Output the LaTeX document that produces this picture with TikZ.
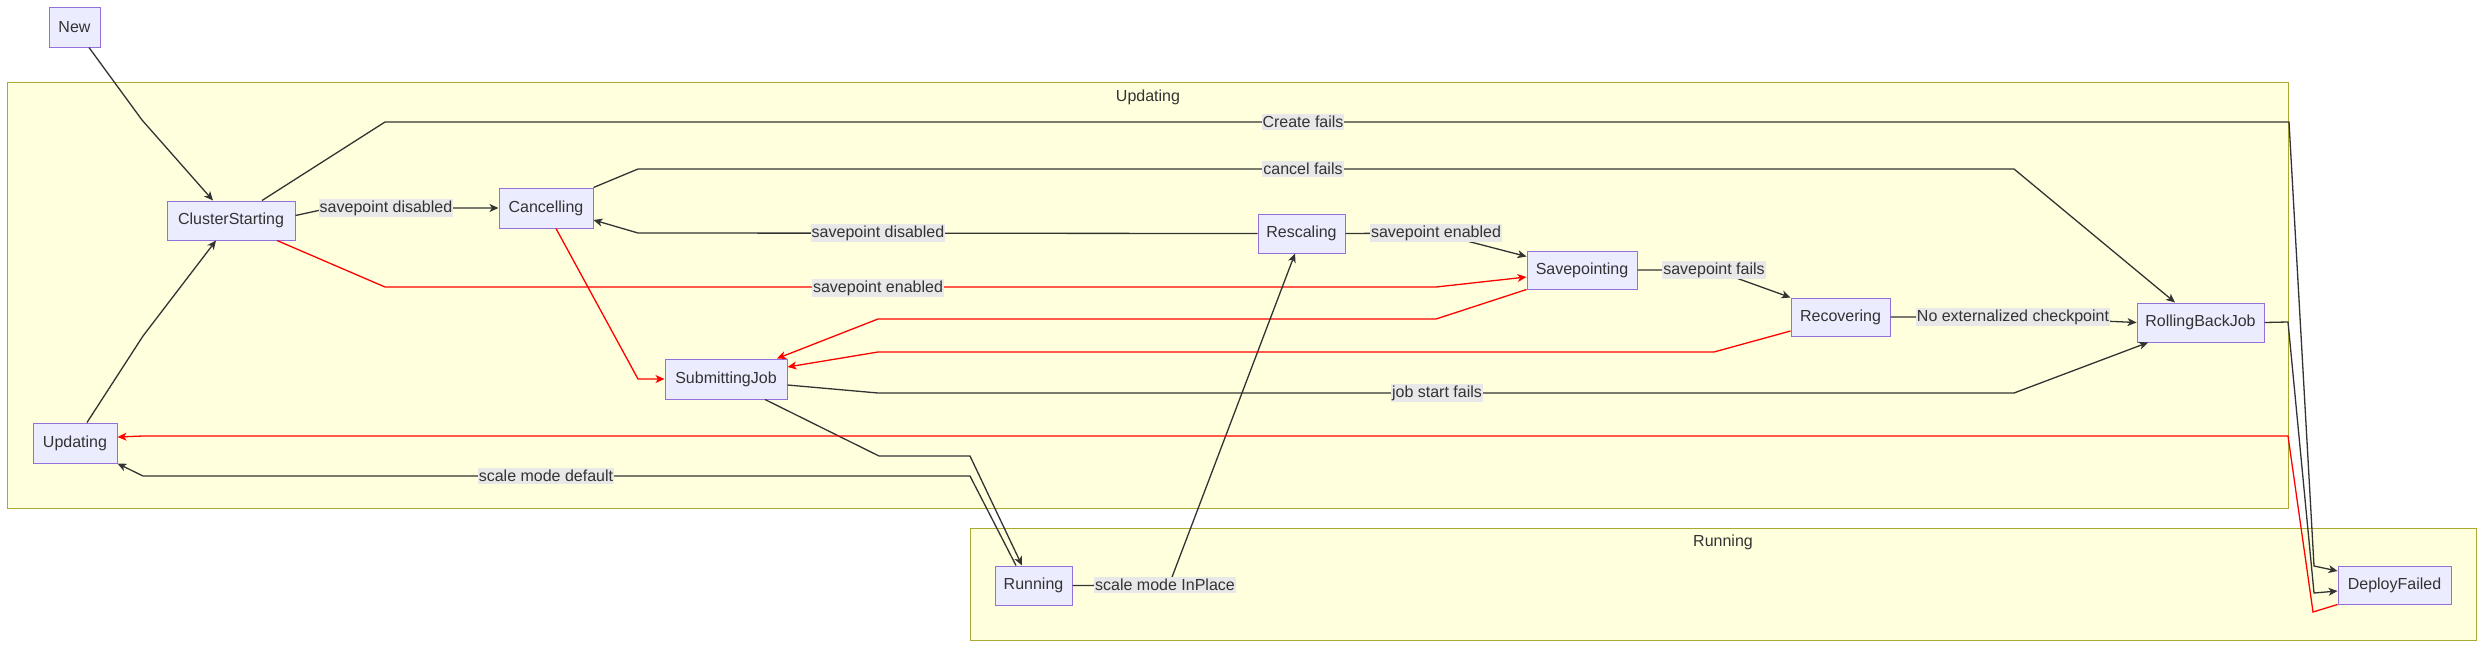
\documentclass[tikz,border=0pt]{standalone}
\usepackage{fontspec}
\setmainfont{Liberation Sans}
\usetikzlibrary{arrows.meta,calc}
\definecolor{nodefill}{HTML}{ECECFF}
\definecolor{nodeline}{HTML}{9370DB}
\definecolor{clfill}{HTML}{FFFFDE}
\definecolor{clline}{HTML}{AAAA33}
\definecolor{edgec}{HTML}{333333}
\definecolor{lblfill}{HTML}{E8E8E8}
\definecolor{txt}{HTML}{333333}
\begin{document}
\begin{tikzpicture}[x=1pt,y=-1pt,
  state/.style={draw=nodeline,fill=nodefill,line width=1pt,minimum height=39pt,inner sep=0pt,text=txt,font=\fontsize{16}{19}\selectfont},
  cluster/.style={draw=clline,fill=clfill,line width=1pt},
  ctitle/.style={text=txt,font=\fontsize{16}{19}\selectfont,inner sep=0pt},
  tr/.style={draw=edgec,line width=1.3pt,-{Stealth[length=9pt,width=8pt,inset=2.5pt]}},
  trred/.style={draw=red,line width=1.3pt,-{Stealth[length=9pt,width=8pt,inset=2.5pt]}},
  lbl/.style={fill=lblfill,text=txt,inner xsep=1pt,inner ysep=2pt,font=\fontsize{16}{19}\selectfont}
]
\useasboundingbox[fill=white] (0,0) rectangle (2485,648);
% clusters
\path[cluster] (7.6,82) rectangle (2288,508);
\node[ctitle] (tUpd) at (1148,97) {Updating};
\path[cluster] (970,528) rectangle (2476,640);
\node[ctitle] (tRun) at (1723,542) {Running};
% states
\node[state,minimum width=51pt,minimum height=40pt] (New) at (74.5,27) {New};
\node[state,minimum width=128pt] (CS) at (231,220.5) {ClusterStarting};
\node[state,minimum width=94pt,minimum height=40pt] (Canc) at (546,208) {Cancelling};
\node[state,minimum width=84pt,minimum height=40pt] (Upd) at (75,443) {Updating};
\node[state,minimum width=122pt,minimum height=40pt] (SJ) at (726,379) {SubmittingJob};
\node[state,minimum width=87pt] (Resc) at (1301.5,233.5) {Rescaling};
\node[state,minimum width=110pt,minimum height=38pt] (Svp) at (1582,270) {Savepointing};
\node[state,minimum width=99pt,minimum height=38pt] (Rec) at (1840.5,317) {Recovering};
\node[state,minimum width=127pt] (RBJ) at (2200.5,322.5) {RollingBackJob};
\node[state,minimum width=77pt] (Run) at (1033.5,585.5) {Running};
\node[state,minimum width=113pt,minimum height=38pt] (DF) at (2394.5,585) {DeployFailed};
% transitions
\draw[tr] ($(New.south)+(14.5,0)$) -- (142,120) -- ($(CS.north)+(-18,0)$);
\draw[tr] ($(Upd.north)+(12,0)$) -- (143,336) -- ($(CS.south)+(-15,0)$);
\draw[tr] ($(CS.east)+(0,-5)$) -- (330,208) -- (Canc.west);
\path (386,208) node[lbl] (l1) {savepoint disabled};
\draw[tr] ($(CS.north)+(31,0)$) -- (385,122) -- (2289,122) -- (2314,566) -- ($(DF.west)+(0,-14)$);
\path (1303,122) node[lbl] (l2) {Create fails};
\draw[tr] (Canc.north east) -- (638,169) -- (2014,169) -- ($(RBJ.north)+(-25.5,0)$);
\path (1303,169) node[lbl] (l3) {cancel fails};
\draw[tr] (Resc.west) -- (638,233) -- ($(Canc.east)+(0,12)$);
\path (878,233) node[lbl] (l4) {savepoint disabled};
\draw[trred] ($(CS.south)+(46,0)$) -- (385,287) -- (1436,287) -- ($(Svp.west)+(0,7)$);
\path (878,288) node[lbl] (l5) {savepoint enabled};
\draw[trred] ($(Canc.south)+(10,0)$) -- (638,379) -- (SJ.west);
\draw[trred] (Svp.south west) -- (1436,319) -- (878,319) -- ($(SJ.north)+(51,0)$);
\draw[trred] ($(Rec.west)+(0,14)$) -- (1714,352) -- (878,352) -- ($(SJ.east)+(0,-12)$);
\draw[tr] ($(SJ.east)+(0,6)$) -- (878,393) -- (2014,393) -- ($(RBJ.south)+(-52.5,0)$);
\path (1437,393) node[lbl] (l6) {job start fails};
\draw[tr] ($(SJ.south)+(39,0)$) -- (879,456) -- (970,456) -- ($(Run.north)+(-11.5,0)$);
\draw[tr] ($(Run.north)+(-17.5,0)$) -- (970,476) -- (143,476) -- (Upd.south east);
\path (546,476) node[lbl] (l7) {scale mode default};
\draw[tr] (Run.east) -- (1169,585) -- ($(Resc.south)+(-6.5,0)$);
\path (1165,585) node[lbl] (l8) {scale mode InPlace};
\draw[tr] (Resc.east) -- (1436,233) -- ($(Svp.north west)+(0,6)$);
\path (1436,233) node[lbl] (l9) {savepoint enabled};
\draw[tr] (Svp.east) -- (1714,270) -- (Rec.north west);
\path (1714,270) node[lbl] (l10) {savepoint fails};
\draw[tr] (Rec.east) -- (2013,317) -- (RBJ.west);
\path (2013,317) node[lbl] (l11) {No externalized checkpoint};
\draw[tr] (RBJ.east) -- (2288,322) -- (2314,593) -- ($(DF.west)+(0,6)$);
\draw[trred] (DF.south west) -- (2313,612) -- (2288,436) -- (143,436) -- ($(Upd.east)+(0,-6)$);
\end{tikzpicture}
\end{document}
